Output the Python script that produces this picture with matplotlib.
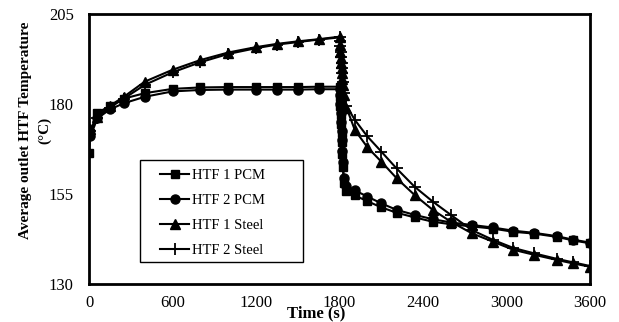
import matplotlib
matplotlib.use('Agg')
import matplotlib.pyplot as plt
from matplotlib.patches import Rectangle

plt.rcParams['font.family'] = ['Liberation Serif', 'DejaVu Serif']

# time points (s), shared by all four series
time = [0, 10, 60, 150, 250, 400, 600, 800, 1000, 1200, 1350, 1500, 1650, 1800,
        1803, 1806, 1809, 1812, 1815, 1818, 1821, 1825, 1830, 1850, 1910, 2000,
        2100, 2210, 2340, 2470, 2600, 2750, 2900, 3050, 3200, 3360, 3480, 3600]

htf1_pcm = [166.5, 172, 177.5, 179.5, 181.5, 183, 184.2, 184.6, 184.7, 184.7, 184.7, 184.7, 184.8, 184.8,
            182, 179.5, 177, 174.5, 172, 169.5, 166, 162.5, 158, 155.8, 154.6, 153,
            151.3, 149.8, 148.5, 147.3, 146.6, 146.0, 145.4, 144.5, 144.0, 143.1, 142.1, 141.3]
htf2_pcm = [171.5, 171, 176, 178.5, 180.2, 182, 183.5, 183.9, 184, 184, 184, 184, 184.1, 184.1,
            182.5, 180, 177.5, 175, 172.5, 170, 167, 164, 159.5, 157.2, 156, 154.3,
            152.4, 150.6, 149.2, 148.0, 147.1, 146.4, 145.7, 144.8, 144.2, 143.3, 142.3, 141.5]
htf1_steel = [172.5, 173, 176.5, 179.5, 182, 186.2, 189.5, 192.2, 194.3, 195.8, 196.7, 197.4, 198, 198.7,
              196.5, 194.5, 192.8, 191.3, 190, 188.5, 187, 185.3, 182.5, 179, 172.8, 168,
              164, 159.4, 154.7, 150.6, 147.3, 144.1, 141.8, 139.5, 138.1, 136.7, 135.7, 134.8]
htf2_steel = [172, 172.5, 176, 179, 181.5, 185.3, 188.8, 191.6, 193.9, 195.5, 196.5, 197.2, 197.9, 198.5,
              197.5, 196, 194.5, 193, 191.5, 190, 188.5, 186, 183, 179.5, 175.6, 171,
              166.8, 162.1, 157, 152.9, 149.2, 145, 142.3, 140, 138.5, 137, 136, 135]

x_ticks = [0, 600, 1200, 1800, 2400, 3000, 3600]
y_ticks = [130, 155, 180, 205]

fig = plt.figure(figsize=(6.19, 3.22), dpi=100)
ax = fig.add_axes([89 / 619, 38 / 322, 501 / 619, 270 / 322])

ax.plot(time, htf1_pcm, marker='s', ms=6, color='black', lw=1.5, label='HTF 1 PCM')
ax.plot(time, htf2_pcm, marker='o', ms=6.5, color='black', lw=1.5, label='HTF 2 PCM')
ax.plot(time, htf1_steel, marker='^', ms=6.5, color='black', lw=1.5, label='HTF 1 Steel')
ax.plot(time, htf2_steel, marker='+', ms=9, mew=1.3, color='black', lw=1.5, label='HTF 2 Steel')

ax.set_xlim(0, 3600)
ax.set_ylim(130, 205)
ax.set_xticks(x_ticks)
ax.set_yticks(y_ticks)
ax.tick_params(length=0, labelsize=12)
ax.tick_params(axis='x', pad=8)
ax.tick_params(axis='y', pad=11)
for s in ax.spines.values():
    s.set_linewidth(2)
    s.set_color('black')

fig.text(316 / 619, 1 - 313 / 322, 'Time (s)', fontsize=12, fontweight='bold',
         ha='center', va='center')
fig.text(35 / 619, 1 - 130 / 322, 'Average outlet HTF Temperature\n(°C)', fontsize=11,
         fontweight='bold', rotation=90, ha='center', va='center', multialignment='center',
         linespacing=1.55)

# legend with a hand-drawn frame (wide padding like the original)
ax.add_patch(Rectangle((0.102, 0.081), 0.325, 0.378, transform=ax.transAxes,
                       fill=False, edgecolor='black', lw=1, zorder=5))
ax.legend(loc='upper left', bbox_to_anchor=(0.142, 0.425), frameon=False,
          fontsize=10.5, handlelength=2.0, borderaxespad=0, borderpad=0,
          labelspacing=0.79, handletextpad=0.2)

fig.savefig('out.png', dpi=100)
